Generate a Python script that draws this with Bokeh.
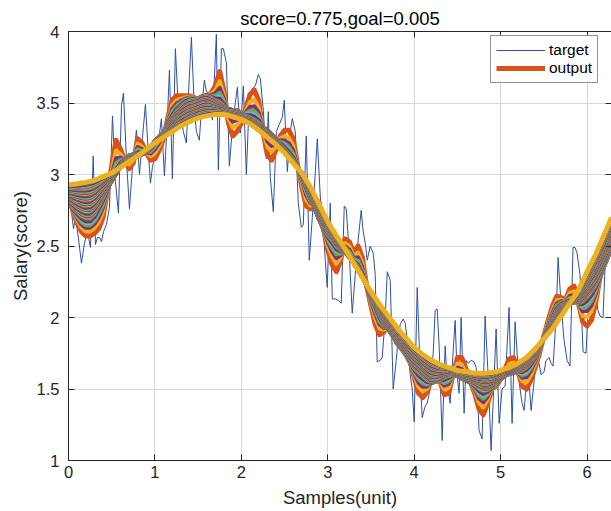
import numpy as np
from bokeh.plotting import figure
from bokeh.models import LinearAxis, Legend, LegendItem, FixedTicker, Range1d
from bokeh.embed import file_html
from bokeh.resources import INLINE

TITLE = "score=0.775,goal=0.005"
X_LABEL = "Samples(unit)"
Y_LABEL = "Salary(score)"
x_ticks = [0, 1, 2, 3, 4, 5, 6]
y_ticks = [1, 1.5, 2, 2.5, 3, 3.5, 4]

# noisy target series
target_x = [0, 0.023, 0.058, 0.081, 0.116, 0.150, 0.185, 0.220, 0.254, 0.286, 0.312, 0.335, 0.358, 0.382, 0.405,
            0.439, 0.474, 0.509, 0.543, 0.578, 0.613, 0.636, 0.671, 0.705, 0.740, 0.786, 0.821, 0.855, 0.890, 0.919,
            0.948, 0.971, 0.994, 1.029, 1.052, 1.075, 1.110, 1.145, 1.168, 1.202, 1.237, 1.272, 1.306, 1.329, 1.364,
            1.387, 1.422, 1.457, 1.480, 1.514, 1.538, 1.572, 1.595, 1.630, 1.665, 1.711, 1.734, 1.769, 1.792, 1.827,
            1.861, 1.896, 1.919, 1.954, 1.988, 2.023, 2.058, 2.092, 2.127, 2.162, 2.197, 2.220, 2.254, 2.289, 2.312,
            2.335, 2.370, 2.405, 2.439, 2.474, 2.497, 2.532, 2.566, 2.590, 2.624, 2.659, 2.694, 2.717, 2.751, 2.786,
            2.821, 2.844, 2.879, 2.913, 2.948, 2.971, 2.994, 3.029, 3.052, 3.087, 3.121, 3.156, 3.191, 3.214, 3.249,
            3.283, 3.318, 3.353, 3.387, 3.410, 3.434, 3.457, 3.491, 3.526, 3.549, 3.572, 3.607, 3.630, 3.665, 3.688,
            3.723, 3.757, 3.792, 3.815, 3.838, 3.873, 3.896, 3.919, 3.954, 3.977, 4.000, 4.035, 4.069, 4.092, 4.127,
            4.150, 4.185, 4.220, 4.243, 4.266, 4.289, 4.324, 4.358, 4.382, 4.416, 4.439, 4.474, 4.497, 4.520, 4.543,
            4.578, 4.601, 4.624, 4.659, 4.694, 4.717, 4.751, 4.786, 4.821, 4.855, 4.890, 4.913, 4.948, 4.983, 5.017,
            5.052, 5.075, 5.098, 5.133, 5.168, 5.202, 5.225, 5.249, 5.272, 5.306, 5.329, 5.353, 5.387, 5.410, 5.445,
            5.468, 5.503, 5.526, 5.561, 5.584, 5.607, 5.642, 5.665, 5.699, 5.734, 5.769, 5.803, 5.838, 5.861, 5.884,
            5.919, 5.954, 5.988, 6.012, 6.035, 6.069, 6.092, 6.127, 6.150, 6.185, 6.208, 6.243, 6.283]
target_y = [2.90, 2.80, 2.62, 2.70, 2.55, 2.38, 2.52, 2.60, 2.49, 3.13, 2.51, 2.56, 2.56, 2.53, 2.60,
            2.65, 2.77, 3.41, 2.95, 2.73, 3.48, 3.57, 3.10, 2.76, 3.05, 3.31, 3.00, 3.25, 3.49, 3.20,
            2.94, 3.05, 3.12, 3.20, 3.28, 3.39, 2.99, 3.40, 3.73, 2.97, 3.88, 3.45, 3.40, 3.30, 3.22,
            3.55, 3.96, 3.45, 3.30, 3.24, 3.45, 3.66, 3.58, 3.57, 3.38, 3.98, 3.03, 3.88, 3.88, 3.78,
            3.06, 3.32, 3.45, 3.61, 3.29, 3.62, 3.00, 3.53, 3.60, 3.62, 3.70, 3.67, 3.45, 3.11, 3.44,
            2.98, 2.74, 3.30, 3.35, 3.40, 3.52, 3.02, 3.30, 3.39, 3.30, 2.80, 2.63, 2.65, 3.27, 2.40,
            2.70, 2.90, 3.25, 2.85, 2.63, 2.40, 2.21, 2.80, 2.13, 2.13, 2.12, 2.10, 2.78, 2.76, 2.45,
            2.03, 2.30, 2.55, 2.75, 2.60, 2.52, 2.40, 2.50, 2.45, 2.30, 1.69, 1.70, 1.72, 2.00, 2.32,
            2.26, 1.50, 1.70, 1.85, 1.95, 1.99, 1.96, 1.85, 1.60, 1.50, 1.27, 2.21, 1.62, 1.30, 1.38,
            1.40, 1.50, 1.75, 2.05, 2.06, 1.80, 1.14, 1.80, 1.55, 1.40, 1.65, 1.98, 1.60, 1.47, 2.00,
            1.33, 1.70, 1.68, 1.70, 1.69, 1.65, 1.21, 1.15, 2.01, 1.60, 1.07, 1.40, 1.92, 1.26, 1.50,
            1.52, 1.80, 2.07, 1.26, 1.97, 1.65, 1.50, 1.40, 1.35, 1.60, 1.55, 1.35, 1.55, 1.70, 1.68,
            1.60, 1.62, 1.70, 1.72, 1.68, 1.66, 2.00, 2.42, 2.10, 1.84, 1.70, 1.66, 2.49, 2.49, 2.45,
            2.30, 1.76, 1.75, 2.05, 2.20, 2.40, 2.20, 2.05, 2.01, 2.00, 2.35, 2.55, 2.70]

# output curves: first (most wiggly) and final (smoothest), sampled every 0.05
fit_x = [round(0.05 * i, 2) for i in range(126)] + [6.2832]
first_output = [2.88, 2.74, 2.66, 2.60, 2.57, 2.57, 2.59, 2.62, 2.70, 2.88,
                3.06, 3.24, 3.18, 3.10, 3.04, 3.08, 3.25, 3.22, 3.15, 3.10,
                3.11, 3.17, 3.25, 3.40, 3.52, 3.55, 3.55, 3.55, 3.55, 3.54,
                3.52, 3.53, 3.55, 3.57, 3.62, 3.72, 3.58, 3.36, 3.27, 3.30,
                3.36, 3.46, 3.56, 3.59, 3.52, 3.30, 3.14, 3.10, 3.17, 3.27,
                3.31, 3.31, 3.25, 3.07, 2.91, 2.78, 2.76, 2.84, 2.80, 2.62,
                2.47, 2.37, 2.32, 2.40, 2.55, 2.53, 2.45, 2.50, 2.42, 2.22,
                2.08, 1.95, 1.88, 1.90, 1.95, 1.90, 1.82, 1.79, 1.78, 1.70,
                1.58, 1.47, 1.44, 1.48, 1.57, 1.62, 1.55, 1.46, 1.47, 1.60,
                1.72, 1.72, 1.64, 1.55, 1.47, 1.36, 1.32, 1.40, 1.50, 1.52,
                1.57, 1.64, 1.71, 1.72, 1.62, 1.52, 1.50, 1.56, 1.65, 1.75,
                1.87, 1.98, 2.08, 2.15, 2.14, 2.12, 2.20, 2.22, 2.10, 1.97,
                1.94, 1.98, 2.10, 2.28, 2.40, 2.50, 2.56]
final_output = [2.93, 2.932, 2.935, 2.94, 2.945, 2.952, 2.96, 2.972, 2.985, 2.997,
                3.01, 3.03, 3.05, 3.07, 3.09, 3.11, 3.13, 3.152, 3.175, 3.197,
                3.22, 3.24, 3.26, 3.28, 3.30, 3.32, 3.34, 3.355, 3.37, 3.383,
                3.395, 3.403, 3.41, 3.415, 3.42, 3.421, 3.42, 3.413, 3.405, 3.395,
                3.385, 3.37, 3.355, 3.333, 3.31, 3.285, 3.26, 3.235, 3.21, 3.18,
                3.15, 3.115, 3.08, 3.045, 3.01, 2.96, 2.91, 2.85, 2.79, 2.73,
                2.67, 2.62, 2.57, 2.525, 2.48, 2.43, 2.38, 2.33, 2.28, 2.23,
                2.18, 2.135, 2.09, 2.05, 2.01, 1.97, 1.93, 1.895, 1.86, 1.825,
                1.79, 1.765, 1.74, 1.72, 1.70, 1.685, 1.67, 1.66, 1.65, 1.64,
                1.63, 1.625, 1.62, 1.615, 1.61, 1.61, 1.61, 1.612, 1.615, 1.622,
                1.63, 1.64, 1.65, 1.665, 1.68, 1.70, 1.72, 1.75, 1.78, 1.815,
                1.85, 1.885, 1.92, 1.965, 2.01, 2.055, 2.10, 2.145, 2.19, 2.255,
                2.32, 2.38, 2.44, 2.51, 2.58, 2.65, 2.70]
n_outputs = 51

assert len(target_x) == len(target_y)
assert len(fit_x) == len(first_output) == len(final_output)

matlab_colors = ["#0072BD", "#D95319", "#EDB120", "#7E2F8E", "#77AC30", "#4DBEEE", "#A2142F"]
TARGET_COLOR = "#2E4FA8"
FONT = "Liberation Sans"
AX = "#262626"

# intermediate training outputs: local wiggles die out quickly, the broad offset slowly
first_arr = np.array(first_output)
final_arr = np.array(final_output)
win = 9
padded = np.pad(first_arr, win // 2, mode="edge")
base_arr = np.convolve(padded, np.ones(win) / win, mode="valid")
out_xs, out_ys, out_colors, out_widths = [], [], [], []
for k in range(1, n_outputs):
    t = k / (n_outputs - 1)
    wig = np.exp(-k / 3.0)
    y = final_arr + (base_arr - final_arr) * (1 - t) + (first_arr - base_arr) * wig * (1 - t)
    out_xs.append(fit_x)
    out_ys.append(list(y))
    out_colors.append(matlab_colors[(k + 1) % 7])
    out_widths.append(5 if k == n_outputs - 1 else 4)

p = figure(width=611, height=511, output_backend="svg", toolbar_location=None,
           x_range=Range1d(0, 2 * np.pi), y_range=Range1d(1, 4),
           min_border_left=68, min_border_right=0, min_border_top=31, min_border_bottom=51)
p.background_fill_color = "white"
p.border_fill_color = "white"
p.outline_line_color = None

p.title.text = TITLE
p.title.align = "center"
p.title.text_font = FONT
p.title.text_font_size = "18.5px"
p.title.text_font_style = "normal"
p.title.text_color = "#000000"
p.title.standoff = 6

for ax in (p.xaxis[0], p.yaxis[0]):
    ax.axis_line_color = AX
    ax.major_tick_line_color = AX
    ax.major_tick_in = 6
    ax.major_tick_out = 0
    ax.minor_tick_line_color = None
    ax.major_label_text_font = FONT
    ax.major_label_text_font_size = "16.5px"
    ax.major_label_text_color = AX
    ax.axis_label_text_font = FONT
    ax.axis_label_text_font_size = "18.5px"
    ax.axis_label_text_font_style = "normal"
    ax.axis_label_text_color = AX
p.xaxis[0].ticker = FixedTicker(ticks=x_ticks)
p.yaxis[0].ticker = FixedTicker(ticks=y_ticks)
p.xaxis[0].axis_label = X_LABEL
p.yaxis[0].axis_label = Y_LABEL
p.xaxis[0].major_label_standoff = 5
p.yaxis[0].major_label_standoff = 9
p.xaxis[0].axis_label_standoff = 6
p.yaxis[0].axis_label_standoff = 3

top_ax = LinearAxis(ticker=FixedTicker(ticks=x_ticks), major_label_text_font_size="0px",
                    major_label_standoff=0, major_tick_in=6, major_tick_out=0,
                    minor_tick_line_color=None, axis_line_color=AX, major_tick_line_color=AX)
right_ax = LinearAxis(ticker=FixedTicker(ticks=y_ticks), major_label_text_font_size="0px",
                      major_label_standoff=0, major_tick_in=6, major_tick_out=0,
                      minor_tick_line_color=None, axis_line_color=None, major_tick_line_color=AX)
p.add_layout(top_ax, "above")
p.add_layout(right_ax, "right")

p.xgrid.ticker = FixedTicker(ticks=x_ticks)
p.ygrid.ticker = FixedTicker(ticks=y_ticks)
for g in (p.xgrid[0], p.ygrid[0]):
    g.grid_line_color = "#d9d9d9"
    g.grid_line_width = 1

r_target = p.line(target_x, target_y, line_color=TARGET_COLOR, line_width=1)
r_out0 = p.line(fit_x, first_output, line_color=matlab_colors[1], line_width=5, line_join="round")
p.multi_line(out_xs, out_ys, line_color=out_colors, line_width=out_widths, line_join="round")

legend = Legend(items=[LegendItem(label="target", renderers=[r_target]),
                       LegendItem(label="output", renderers=[r_out0])],
                location=(422, 377), orientation="vertical")
legend.label_text_font = FONT
legend.label_text_font_size = "15.5px"
legend.label_text_color = "#000000"
legend.glyph_width = 49
legend.glyph_height = 18
legend.label_height = 18
legend.label_standoff = 4
legend.spacing = 0
legend.padding = 5
legend.margin = 0
legend.border_line_color = AX
legend.border_line_width = 1
legend.background_fill_color = "white"
legend.background_fill_alpha = 1
p.add_layout(legend, "center")

open("out.html", "w").write(file_html(p, INLINE))
